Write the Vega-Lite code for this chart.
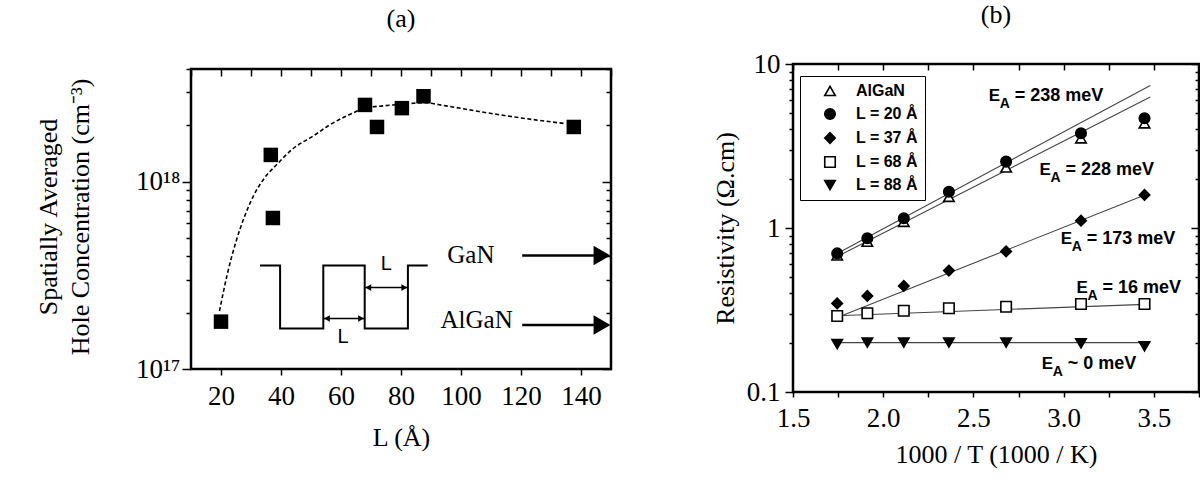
{
  "$schema": "https://vega.github.io/schema/vega-lite/v6.json",
  "background": "white",
  "padding": {"left": 35, "top": 0, "right": 0, "bottom": 0},
  "spacing": 98,
  "config": {
    "view": {"stroke": "black", "strokeWidth": 2.5},
    "font": "Liberation Serif",
    "axis": {
      "labelFont": "Liberation Serif", "labelFontSize": 27, "labelColor": "black",
      "titleFont": "Liberation Serif", "titleFontSize": 26, "titleFontWeight": "normal", "titleColor": "black",
      "tickColor": "black", "tickWidth": 1.5, "domain": false, "grid": false, "labelOverlap": false
    },
    "title": {"font": "Liberation Serif", "fontSize": 26, "fontWeight": "normal", "color": "black"}
  },
  "resolve": {
    "scale": {"shape": "independent", "fill": "independent", "stroke": "independent"},
    "legend": {"shape": "independent", "fill": "independent", "stroke": "independent"}
  },
  "datasets": {
    "frameA": [
      {"L": 10, "L2": 150, "n": 1e17, "n2": 4e18}
    ],
    "ptsA": [
      {"L": 20, "n": 1.79e17}, {"L": 36.6, "n": 1.39e18}, {"L": 37.3, "n": 6.4e17},
      {"L": 68, "n": 2.57e18}, {"L": 72, "n": 1.96e18}, {"L": 80.3, "n": 2.47e18},
      {"L": 87.5, "n": 2.86e18}, {"L": 137.6, "n": 1.96e18}
    ],
    "fitA": [
      {"L": 19.5, "n": 2.04e17}, {"L": 22, "n": 3.16e17}, {"L": 25, "n": 4.79e17},
      {"L": 28, "n": 6.61e17}, {"L": 31, "n": 8.51e17}, {"L": 34.5, "n": 1.047e18},
      {"L": 38.7, "n": 1.24e18}, {"L": 44, "n": 1.5e18}, {"L": 50.9, "n": 1.76e18},
      {"L": 56, "n": 2.0e18}, {"L": 62, "n": 2.25e18}, {"L": 68.6, "n": 2.48e18},
      {"L": 74, "n": 2.54e18}, {"L": 80, "n": 2.59e18}, {"L": 87.4, "n": 2.64e18},
      {"L": 95, "n": 2.54e18}, {"L": 106, "n": 2.37e18}, {"L": 120, "n": 2.19e18},
      {"L": 135, "n": 2.04e18}
    ],
    "wellA": [
      {"k": 1, "L": 33.0, "n": 3.57e17}, {"k": 2, "L": 39.7, "n": 3.57e17},
      {"k": 3, "L": 39.7, "n": 1.647e17}, {"k": 4, "L": 54.1, "n": 1.647e17},
      {"k": 5, "L": 54.1, "n": 3.57e17}, {"k": 6, "L": 67.9, "n": 3.57e17},
      {"k": 7, "L": 67.9, "n": 1.647e17}, {"k": 8, "L": 82.3, "n": 1.647e17},
      {"k": 9, "L": 82.3, "n": 3.57e17}, {"k": 10, "L": 88.9, "n": 3.57e17}
    ],
    "spansA": [
      {"L": 54.1, "L2": 67.9, "n": 1.86e17},
      {"L": 67.9, "L2": 82.3, "n": 2.72e17}
    ],
    "leftHeadsA": [
      {"L": 55.3, "n": 1.86e17}, {"L": 69.1, "n": 2.72e17}
    ],
    "rightHeadsA": [
      {"L": 66.7, "n": 1.86e17}, {"L": 81.1, "n": 2.72e17}
    ],
    "layerArrowsA": [
      {"L": 120.4, "L2": 146, "n": 4.04e17},
      {"L": 120.4, "L2": 146, "n": 1.715e17}
    ],
    "layerHeadsA": [
      {"L": 147, "n": 4.04e17}, {"L": 147, "n": 1.715e17}
    ],
    "layerNamesA": [
      {"L": 103.3, "n": 4.04e17, "t": "GaN"}, {"L": 105.2, "n": 1.82e17, "t": "AlGaN"}
    ],
    "widthNamesA": [
      {"L": 60.7, "n": 1.486e17, "t": "L"}, {"L": 75.1, "n": 3.65e17, "t": "L"}
    ],
    "ptsB": [
      {"s": "AlGaN", "invT": 1.745, "rho": 0.68}, {"s": "AlGaN", "invT": 1.912, "rho": 0.825},
      {"s": "AlGaN", "invT": 2.114, "rho": 1.09}, {"s": "AlGaN", "invT": 2.364, "rho": 1.55},
      {"s": "AlGaN", "invT": 2.681, "rho": 2.34}, {"s": "AlGaN", "invT": 3.096, "rho": 3.52},
      {"s": "AlGaN", "invT": 3.448, "rho": 4.35},
      {"s": "L = 20 Å", "invT": 1.745, "rho": 0.70}, {"s": "L = 20 Å", "invT": 1.912, "rho": 0.865},
      {"s": "L = 20 Å", "invT": 2.114, "rho": 1.146}, {"s": "L = 20 Å", "invT": 2.364, "rho": 1.665},
      {"s": "L = 20 Å", "invT": 2.681, "rho": 2.54}, {"s": "L = 20 Å", "invT": 3.096, "rho": 3.78},
      {"s": "L = 20 Å", "invT": 3.448, "rho": 4.67},
      {"s": "L = 37 Å", "invT": 1.745, "rho": 0.347}, {"s": "L = 37 Å", "invT": 1.912, "rho": 0.385},
      {"s": "L = 37 Å", "invT": 2.114, "rho": 0.443}, {"s": "L = 37 Å", "invT": 2.364, "rho": 0.55},
      {"s": "L = 37 Å", "invT": 2.681, "rho": 0.72}, {"s": "L = 37 Å", "invT": 3.096, "rho": 1.108},
      {"s": "L = 37 Å", "invT": 3.448, "rho": 1.59},
      {"s": "L = 68 Å", "invT": 1.745, "rho": 0.2905}, {"s": "L = 68 Å", "invT": 1.912, "rho": 0.302},
      {"s": "L = 68 Å", "invT": 2.114, "rho": 0.313}, {"s": "L = 68 Å", "invT": 2.364, "rho": 0.324},
      {"s": "L = 68 Å", "invT": 2.681, "rho": 0.331}, {"s": "L = 68 Å", "invT": 3.096, "rho": 0.344},
      {"s": "L = 68 Å", "invT": 3.448, "rho": 0.344},
      {"s": "L = 88 Å", "invT": 1.745, "rho": 0.196}, {"s": "L = 88 Å", "invT": 1.912, "rho": 0.2},
      {"s": "L = 88 Å", "invT": 2.114, "rho": 0.2}, {"s": "L = 88 Å", "invT": 2.364, "rho": 0.2},
      {"s": "L = 88 Å", "invT": 2.681, "rho": 0.2}, {"s": "L = 88 Å", "invT": 3.096, "rho": 0.198},
      {"s": "L = 88 Å", "invT": 3.448, "rho": 0.19}
    ],
    "fitsB": [
      {"fit": "238", "invT": 1.745, "rho": 0.70}, {"fit": "238", "invT": 3.48, "rho": 7.4},
      {"fit": "228", "invT": 1.745, "rho": 0.67}, {"fit": "228", "invT": 3.48, "rho": 6.3},
      {"fit": "173", "invT": 1.78, "rho": 0.295}, {"fit": "173", "invT": 3.45, "rho": 1.59},
      {"fit": "16", "invT": 1.745, "rho": 0.292}, {"fit": "16", "invT": 3.45, "rho": 0.342},
      {"fit": "0", "invT": 1.745, "rho": 0.2}, {"fit": "0", "invT": 3.45, "rho": 0.2}
    ],
    "energiesB": [
      {"invT": 2.585, "rho": 6.36, "rest": "= 238 meV"},
      {"invT": 2.866, "rho": 2.26, "rest": "= 228 meV"},
      {"invT": 2.984, "rho": 0.857, "rest": "= 173 meV"},
      {"invT": 3.071, "rho": 0.433, "rest": "= 16 meV"},
      {"invT": 2.878, "rho": 0.148, "rest": "~ 0 meV"}
    ]
  },
  "hconcat": [
    {
      "width": 420,
      "height": 305,
      "view": {"stroke": null},
      "title": {"text": "(a)", "offset": 23},
      "layer": [
        {
          "layer": [
            {
              "data": {"name": "fitA"},
              "mark": {"type": "line", "color": "black", "strokeWidth": 1.6, "strokeDash": [4, 2.5], "interpolate": "monotone"},
              "encoding": {
                "x": {
                  "field": "L", "type": "quantitative",
                  "scale": {"domain": [10, 150], "nice": false, "zero": false},
                  "axis": {
                    "title": "L (Å)",
                    "labels": true,
                    "values": [20, 40, 60, 80, 100, 120, 140],
                    "format": "d",
                    "labelFlush": false, "tickSize": 6, "labelPadding": 8, "titlePadding": 15
                  }
                },
                "y": {
                  "field": "n", "type": "quantitative",
                  "scale": {"type": "log", "domain": [1e17, 4.25e18], "nice": false},
                  "axis": {
                    "title": ["Spatially Averaged", "Hole Concentration (cm⁻³)"],
                    "titleLineHeight": 32,
                    "values": [1e17, 2e17, 3e17, 4e17, 5e17, 6e17, 7e17, 8e17, 9e17, 1e18, 2e18, 3e18, 4e18],
                    "labelExpr": "datum.value === 1e17 ? '10¹⁷' : datum.value === 1e18 ? '10¹⁸' : ''",
                    "tickSize": {"condition": {"test": "datum.value === 1e17 || datum.value === 1e18", "value": 9}, "value": 5},
                    "labelPadding": 2, "titlePadding": 42
                  }
                }
              }
            },
            {
              "data": {"name": "frameA"},
              "mark": {"type": "rect", "filled": false, "stroke": "black", "strokeWidth": 2.5},
              "encoding": {
                "x": {"field": "L", "type": "quantitative"},
                "x2": {"field": "L2"},
                "y": {"field": "n", "type": "quantitative"},
                "y2": {"field": "n2"}
              }
            },
            {
              "data": {"name": "ptsA"},
              "mark": {"type": "point", "shape": "square", "filled": true, "color": "black", "size": 210, "opacity": 1},
              "encoding": {
                "x": {"field": "L", "type": "quantitative"},
                "y": {"field": "n", "type": "quantitative"}
              }
            },
            {
              "data": {"name": "wellA"},
              "mark": {"type": "line", "color": "black", "strokeWidth": 2},
              "encoding": {
                "x": {"field": "L", "type": "quantitative"},
                "y": {"field": "n", "type": "quantitative"},
                "order": {"field": "k"}
              }
            },
            {
              "data": {"name": "spansA"},
              "mark": {"type": "rule", "color": "black", "strokeWidth": 1.5},
              "encoding": {
                "x": {"field": "L", "type": "quantitative"},
                "x2": {"field": "L2"},
                "y": {"field": "n", "type": "quantitative"}
              }
            },
            {
              "data": {"name": "leftHeadsA"},
              "mark": {"type": "point", "shape": "triangle-left", "filled": true, "color": "black", "size": 45, "opacity": 1},
              "encoding": {
                "x": {"field": "L", "type": "quantitative"},
                "y": {"field": "n", "type": "quantitative"}
              }
            },
            {
              "data": {"name": "rightHeadsA"},
              "mark": {"type": "point", "shape": "triangle-right", "filled": true, "color": "black", "size": 45, "opacity": 1},
              "encoding": {
                "x": {"field": "L", "type": "quantitative"},
                "y": {"field": "n", "type": "quantitative"}
              }
            },
            {
              "data": {"name": "layerArrowsA"},
              "mark": {"type": "rule", "color": "black", "strokeWidth": 2.5},
              "encoding": {
                "x": {"field": "L", "type": "quantitative"},
                "x2": {"field": "L2"},
                "y": {"field": "n", "type": "quantitative"}
              }
            },
            {
              "data": {"name": "layerHeadsA"},
              "mark": {"type": "point", "shape": "triangle-right", "filled": true, "color": "black", "size": 380, "opacity": 1},
              "encoding": {
                "x": {"field": "L", "type": "quantitative"},
                "y": {"field": "n", "type": "quantitative"}
              }
            },
            {
              "data": {"name": "layerNamesA"},
              "mark": {"type": "text", "font": "Liberation Serif", "fontSize": 25, "color": "black", "align": "center", "baseline": "middle"},
              "encoding": {
                "x": {"field": "L", "type": "quantitative"},
                "y": {"field": "n", "type": "quantitative"},
                "text": {"field": "t"}
              }
            },
            {
              "data": {"name": "widthNamesA"},
              "mark": {"type": "text", "font": "Liberation Sans", "fontSize": 20, "color": "black", "align": "center", "baseline": "middle"},
              "encoding": {
                "x": {"field": "L", "type": "quantitative"},
                "y": {"field": "n", "type": "quantitative"},
                "text": {"field": "t"}
              }
            }
          ]
        },
        {
          "data": {"name": "ptsA"},
          "mark": {"type": "point", "opacity": 0},
          "encoding": {
            "x": {
              "field": "L", "type": "quantitative",
              "scale": {"domain": [10, 150], "nice": false, "zero": false},
              "axis": {"orient": "top", "offset": -5, "title": null, "labels": false, "values": [10, 20, 30, 40, 50, 60, 70, 80, 90, 100, 110, 120, 130, 140, 150], "tickSize": -7}
            },
            "y": {
              "field": "n", "type": "quantitative",
              "scale": {"type": "log", "domain": [1e17, 4.25e18], "nice": false},
              "axis": {
                "orient": "right", "title": null, "labels": false,
                "values": [1e17, 2e17, 3e17, 4e17, 5e17, 6e17, 7e17, 8e17, 9e17, 1e18, 2e18, 3e18, 4e18],
                "tickSize": {"condition": {"test": "datum.value === 1e17 || datum.value === 1e18", "value": -9}, "value": -5}
              }
            }
          }
        }
      ],
      "resolve": {"axis": {"x": "independent", "y": "independent"}}
    },
    {
      "width": 406,
      "height": 328,
      "title": {"text": "(b)", "offset": 22},
      "layer": [
        {
          "layer": [
            {
              "data": {"name": "fitsB"},
              "mark": {"type": "line", "color": "#444444", "strokeWidth": 1.1},
              "encoding": {
                "x": {
                  "field": "invT", "type": "quantitative",
                  "scale": {"domain": [1.5, 3.75], "nice": false, "zero": false},
                  "axis": {
                    "title": "1000 / T (1000 / K)",
                    "values": [1.5, 1.75, 2, 2.25, 2.5, 2.75, 3, 3.25, 3.5, 3.75],
                    "labelExpr": "(datum.value * 2) % 1 === 0 && datum.value < 3.6 ? format(datum.value, '.1f') : ''",
                    "labelFlush": false, "tickSize": 5, "labelPadding": 8, "titlePadding": 10
                  }
                },
                "y": {
                  "field": "rho", "type": "quantitative",
                  "scale": {"type": "log", "domain": [0.1, 10], "nice": false},
                  "axis": {
                    "title": "Resistivity (Ω.cm)",
                    "values": [0.1, 0.2, 0.3, 0.4, 0.5, 0.6, 0.7, 0.8, 0.9, 1, 2, 3, 4, 5, 6, 7, 8, 9, 10],
                    "labelExpr": "datum.value === 0.1 ? '0.1' : datum.value === 1 ? '1' : datum.value === 10 ? '10' : ''",
                    "tickSize": {"condition": {"test": "datum.value === 0.1 || datum.value === 1 || datum.value === 10", "value": 8}, "value": 4},
                    "labelPadding": 5, "titlePadding": 8
                  }
                },
                "detail": {"field": "fit", "type": "nominal"}
              }
            },
            {
              "data": {"name": "ptsB"},
              "mark": {"type": "point", "strokeWidth": 1.6, "size": 110, "opacity": 1},
              "encoding": {
                "x": {"field": "invT", "type": "quantitative"},
                "y": {"field": "rho", "type": "quantitative"},
                "shape": {
                  "field": "s", "type": "nominal",
                  "scale": {"domain": ["AlGaN", "L = 20 Å", "L = 37 Å", "L = 68 Å", "L = 88 Å"], "range": ["triangle-up", "circle", "diamond", "square", "triangle-down"]},
                  "legend": {
                    "title": null, "orient": "none", "legendX": 7, "legendY": 12, "padding": 7,
                    "strokeColor": "black", "fillColor": "white",
                    "labelFont": "Liberation Sans", "labelFontWeight": "bold", "labelFontSize": 16, "labelColor": "black",
                    "symbolSize": 110, "symbolStrokeWidth": 1.6, "symbolStrokeColor": "black",
                    "rowPadding": 6, "labelOffset": 18, "symbolOffset": 15
                  }
                },
                "fill": {
                  "field": "s", "type": "nominal",
                  "scale": {"domain": ["AlGaN", "L = 20 Å", "L = 37 Å", "L = 68 Å", "L = 88 Å"], "range": ["white", "black", "black", "white", "black"]},
                  "legend": {
                    "title": null, "orient": "none", "legendX": 7, "legendY": 12, "padding": 7,
                    "strokeColor": "black", "fillColor": "white",
                    "labelFont": "Liberation Sans", "labelFontWeight": "bold", "labelFontSize": 16, "labelColor": "black",
                    "symbolSize": 110, "symbolStrokeWidth": 1.6, "symbolStrokeColor": "black",
                    "rowPadding": 6, "labelOffset": 18, "symbolOffset": 15
                  }
                },
                "stroke": {
                  "field": "s", "type": "nominal",
                  "scale": {"domain": ["AlGaN", "L = 20 Å", "L = 37 Å", "L = 68 Å", "L = 88 Å"], "range": ["black", "black", "black", "black", "black"]},
                  "legend": {
                    "title": null, "orient": "none", "legendX": 7, "legendY": 12, "padding": 7,
                    "strokeColor": "black", "fillColor": "white",
                    "labelFont": "Liberation Sans", "labelFontWeight": "bold", "labelFontSize": 16, "labelColor": "black",
                    "symbolSize": 110, "symbolStrokeWidth": 1.6, "symbolStrokeColor": "black",
                    "rowPadding": 6, "labelOffset": 18, "symbolOffset": 15
                  }
                }
              }
            },
            {
              "data": {"name": "energiesB"},
              "mark": {"type": "text", "text": "E", "font": "Liberation Sans", "fontWeight": "bold", "fontSize": 17, "color": "black", "align": "left", "baseline": "middle"},
              "encoding": {
                "x": {"field": "invT", "type": "quantitative"},
                "y": {"field": "rho", "type": "quantitative"}
              }
            },
            {
              "data": {"name": "energiesB"},
              "mark": {"type": "text", "text": "A", "font": "Liberation Sans", "fontWeight": "bold", "fontSize": 14, "color": "black", "align": "left", "baseline": "middle", "dx": 11, "dy": 8},
              "encoding": {
                "x": {"field": "invT", "type": "quantitative"},
                "y": {"field": "rho", "type": "quantitative"}
              }
            },
            {
              "data": {"name": "energiesB"},
              "mark": {"type": "text", "font": "Liberation Sans", "fontWeight": "bold", "fontSize": 18, "color": "black", "align": "left", "baseline": "middle", "dx": 26},
              "encoding": {
                "x": {"field": "invT", "type": "quantitative"},
                "y": {"field": "rho", "type": "quantitative"},
                "text": {"field": "rest"}
              }
            }
          ]
        },
        {
          "data": {"name": "ptsB"},
          "mark": {"type": "point", "opacity": 0},
          "encoding": {
            "x": {
              "field": "invT", "type": "quantitative",
              "scale": {"domain": [1.5, 3.75], "nice": false, "zero": false},
              "axis": {"orient": "top", "title": null, "labels": false, "values": [1.5, 1.75, 2, 2.25, 2.5, 2.75, 3, 3.25, 3.5, 3.75], "tickSize": -6}
            },
            "y": {
              "field": "rho", "type": "quantitative",
              "scale": {"type": "log", "domain": [0.1, 10], "nice": false},
              "axis": {
                "orient": "right", "title": null, "labels": false,
                "values": [0.1, 0.2, 0.3, 0.4, 0.5, 0.6, 0.7, 0.8, 0.9, 1, 2, 3, 4, 5, 6, 7, 8, 9, 10],
                "tickSize": {"condition": {"test": "datum.value === 0.1 || datum.value === 1 || datum.value === 10", "value": -8}, "value": -4}
              }
            }
          }
        }
      ],
      "resolve": {"axis": {"x": "independent", "y": "independent"}}
    }
  ]
}
